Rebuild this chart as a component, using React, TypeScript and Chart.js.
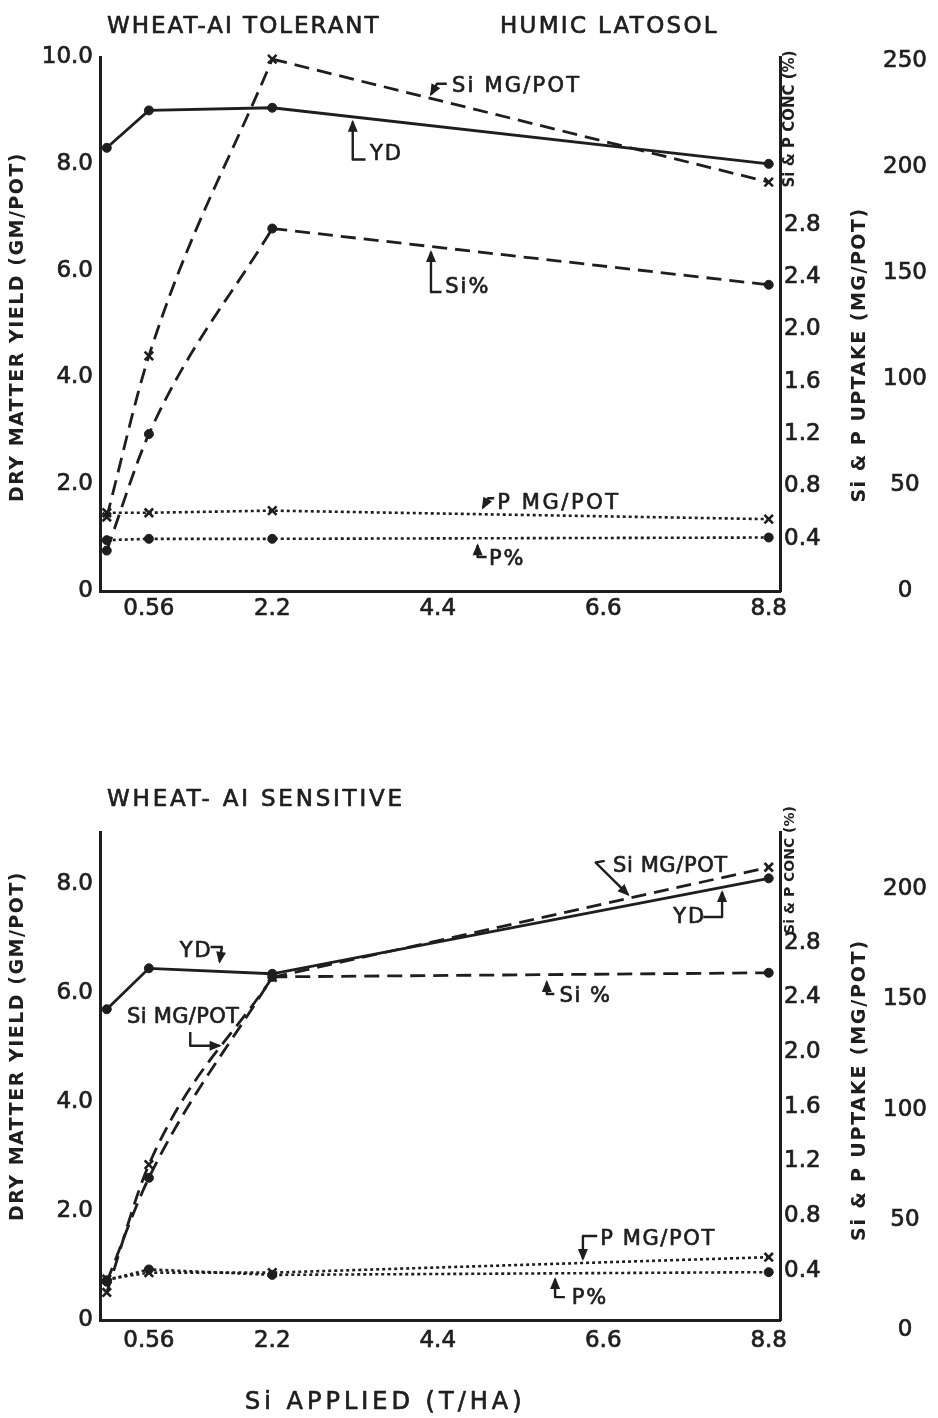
import React, { useEffect, useRef } from "react";
import { Chart, registerables } from "chart.js";

Chart.register(...registerables);

// ---------- data ----------
const SI_RATES = [0, 0.56, 2.2, 8.8];
const X_TICKS = [0.56, 2.2, 4.4, 6.6, 8.8];
const YIELD_TICKS_TOP = [0, 2, 4, 6, 8, 10];
const YIELD_TICKS_BOTTOM = [0, 2, 4, 6, 8];
const CONC_TICKS = [0.4, 0.8, 1.2, 1.6, 2.0, 2.4, 2.8];
const UPTAKE_TICKS_TOP = [0, 50, 100, 150, 200, 250];
const UPTAKE_TICKS_BOTTOM = [0, 50, 100, 150, 200];

// Wheat - Al tolerant (Humic Latosol)
const TOL_YD = [8.3, 9.0, 9.05, 8.0];
const TOL_SI_UPTAKE = [35, 111, 251, 193];
const TOL_SI_PCT = [0.31, 1.2, 2.77, 2.34];
const TOL_P_UPTAKE = [37, 37, 38, 34];
const TOL_P_PCT = [0.39, 0.4, 0.4, 0.41];

// Wheat - Al sensitive
const SEN_YD = [5.7, 6.45, 6.35, 8.1];
const SEN_SI_UPTAKE = [17, 75, 160, 210];
const SEN_SI_PCT = [0.32, 1.08, 2.55, 2.58];
const SEN_P_UPTAKE = [23, 26, 26, 33];
const SEN_P_PCT = [0.33, 0.41, 0.37, 0.39];

// ---------- styling ----------
const INK = "#1e1e1e";
const FONT = '"DejaVu Sans", sans-serif';

type Pt = [number, number];
type Note = { text: string; at: Pt; arrow: Pt[]; sp?: number };
type Label = { text: string; x: number; y: number; size: number; bold?: boolean; spacing?: number; rot?: boolean };

const TOL_NOTES: Note[] = [
  { text: "Si MG/POT", at: [4.59, 9.45], arrow: [[4.52, 9.5], [4.39, 9.5], [4.31, 9.3]], sp: 2.2 },
  { text: "YD", at: [3.5, 8.17], arrow: [[3.44, 8.08], [3.27, 8.08], [3.27, 8.79]], sp: 2 },
  { text: "Si%", at: [4.5, 5.69], arrow: [[4.45, 5.6], [4.31, 5.6], [4.31, 6.35]], sp: 2 },
  { text: "P MG/POT", at: [5.19, 1.65], arrow: [[5.15, 1.74], [5.07, 1.74], [5.0, 1.56]], sp: 2.6 },
  { text: "P%", at: [5.08, 0.59], arrow: [[5.05, 0.64], [4.93, 0.64], [4.93, 0.86]], sp: 2 },
];

const SEN_NOTES: Note[] = [
  { text: "YD", at: [0.97, 6.75], arrow: [[1.38, 6.84], [1.53, 6.84], [1.5, 6.57]], sp: 2 },
  { text: "Si MG/POT", at: [0.27, 5.54], arrow: [[1.11, 5.28], [1.11, 5.03], [1.5, 5.03]], sp: 0.3 },
  { text: "Si MG/POT", at: [6.73, 8.31], arrow: [[6.62, 8.42], [6.5, 8.39], [6.93, 7.8]], sp: 0.6 },
  { text: "YD", at: [7.53, 7.39], arrow: [[7.93, 7.39], [8.18, 7.39], [8.18, 7.85]], sp: 2 },
  { text: "Si %", at: [6.02, 5.94], arrow: [[5.95, 5.98], [5.85, 5.98], [5.85, 6.2]], sp: 1.5 },
  { text: "P MG/POT", at: [6.56, 1.47], arrow: [[6.52, 1.54], [6.33, 1.54], [6.33, 1.12]], sp: 1.6 },
  { text: "P%", at: [6.18, 0.4], arrow: [[6.09, 0.42], [5.96, 0.42], [5.96, 0.75]], sp: 2 },
];

const TOL_LABELS: Label[] = [
  { text: "WHEAT-AI TOLERANT", x: 107, y: 27, size: 23, spacing: 2.0 },
  { text: "HUMIC LATOSOL", x: 500, y: 27, size: 23, spacing: 2.3 },
  { text: "DRY MATTER YIELD (GM/POT)", x: 18, y: 327, size: 19, bold: true, spacing: 1.5, rot: true },
  { text: "Si & P CONC (%)", x: 790, y: 119, size: 15, bold: true, rot: true },
  { text: "Si & P UPTAKE (MG/POT)", x: 860, y: 355, size: 19, bold: true, spacing: 1.5, rot: true },
];

const SEN_LABELS: Label[] = [
  { text: "WHEAT- AI SENSITIVE", x: 107, y: 100, size: 23, spacing: 2.8 },
  { text: "DRY MATTER YIELD (GM/POT)", x: 18, y: 346, size: 19, bold: true, spacing: 1.5, rot: true },
  { text: "Si & P CONC (%)", x: 790, y: 170, size: 14, bold: true, rot: true },
  { text: "Si & P UPTAKE (MG/POT)", x: 860, y: 390, size: 19, bold: true, spacing: 1.8, rot: true },
  { text: "Si APPLIED (T/HA)", x: 245, y: 703, size: 24, spacing: 4 },
];

type Panel = {
  height: number;
  padTop: number;
  xAxisHeight: number;
  xPad: number;
  yMax: number;
  yTicks: number[];
  concMin: number;
  concMax: number;
  upMin: number;
  upMax: number;
  upTicks: number[];
  yd: number[];
  siUp: number[];
  siPct: number[];
  pUp: number[];
  pPct: number[];
  notes: Note[];
  labels: Label[];
};

const TOP_PANEL: Panel = {
  height: 640, padTop: 57, xAxisHeight: 38, xPad: 4,
  yMax: 10, yTicks: YIELD_TICKS_TOP,
  concMin: 0, concMax: 4.08, upMin: 0, upMax: 252, upTicks: UPTAKE_TICKS_TOP,
  yd: TOL_YD, siUp: TOL_SI_UPTAKE, siPct: TOL_SI_PCT, pUp: TOL_P_UPTAKE, pPct: TOL_P_PCT,
  notes: TOL_NOTES, labels: TOL_LABELS,
};

const BOTTOM_PANEL: Panel = {
  height: 718, padTop: 132, xAxisHeight: 98, xPad: 7,
  yMax: 8.95, yTicks: YIELD_TICKS_BOTTOM,
  concMin: 0.04, concMax: 3.61, upMin: 4.5, upMax: 226, upTicks: UPTAKE_TICKS_BOTTOM,
  yd: SEN_YD, siUp: SEN_SI_UPTAKE, siPct: SEN_SI_PCT, pUp: SEN_P_UPTAKE, pPct: SEN_P_PCT,
  notes: SEN_NOTES, labels: SEN_LABELS,
};

function setSpacing(ctx: CanvasRenderingContext2D, s: number) {
  (ctx as any).letterSpacing = `${s}px`;
}

function inkText(ctx: CanvasRenderingContext2D, text: string, x: number, y: number, heavy: boolean) {
  if (heavy) {
    ctx.lineWidth = 0.7;
    ctx.strokeText(text, x, y);
  }
  ctx.fillText(text, x, y);
}

function inkPlugin(panel: Panel) {
  return {
    id: "ink",
    afterDatasetsDraw(chart: any) {
      const ctx: CanvasRenderingContext2D = chart.ctx;
      const sx = chart.scales.x;
      const sy = chart.scales.y;
      ctx.save();
      ctx.fillStyle = INK;
      ctx.strokeStyle = INK;
      ctx.setLineDash([]);
      ctx.lineJoin = "round";
      for (const n of panel.notes) {
        ctx.font = `21px ${FONT}`;
        setSpacing(ctx, n.sp ?? 2);
        ctx.textAlign = "left";
        ctx.textBaseline = "middle";
        inkText(ctx, n.text, sx.getPixelForValue(n.at[0]), sy.getPixelForValue(n.at[1]), true);
        const pts = n.arrow.map(([a, b]) => [sx.getPixelForValue(a), sy.getPixelForValue(b)]);
        ctx.lineWidth = 2.4;
        ctx.beginPath();
        pts.forEach(([x, y], i) => (i ? ctx.lineTo(x, y) : ctx.moveTo(x, y)));
        ctx.stroke();
        const [x1, y1] = pts[pts.length - 2];
        const [x2, y2] = pts[pts.length - 1];
        const ang = Math.atan2(y2 - y1, x2 - x1);
        const L = 10, W = 5;
        ctx.beginPath();
        ctx.moveTo(x2 + 2 * Math.cos(ang), y2 + 2 * Math.sin(ang));
        ctx.lineTo(x2 - L * Math.cos(ang) + W * Math.sin(ang), y2 - L * Math.sin(ang) - W * Math.cos(ang));
        ctx.lineTo(x2 - L * Math.cos(ang) - W * Math.sin(ang), y2 - L * Math.sin(ang) + W * Math.cos(ang));
        ctx.closePath();
        ctx.fill();
      }
      for (const t of panel.labels) {
        ctx.font = `${t.bold ? "bold " : ""}${t.size}px ${FONT}`;
        setSpacing(ctx, t.spacing || 0);
        ctx.textBaseline = "middle";
        if (t.rot) {
          ctx.save();
          ctx.translate(t.x, t.y);
          ctx.rotate(-Math.PI / 2);
          ctx.textAlign = "center";
          inkText(ctx, t.text, 0, 0, !t.bold);
          ctx.restore();
        } else {
          ctx.textAlign = "left";
          inkText(ctx, t.text, t.x, t.y, !t.bold);
        }
      }
      setSpacing(ctx, 0);
      ctx.restore();
    },
  };
}

function makeChart(canvas: HTMLCanvasElement, p: Panel) {
  const base = (
    label: string,
    xs: number[],
    values: number[],
    axis: string,
    dash: number[],
    marker: string,
    radii: number[] | number,
    curved: boolean
  ) => ({
    label,
    data: xs.map((x, i) => ({ x, y: values[i] })),
    yAxisID: axis,
    borderColor: INK,
    backgroundColor: INK,
    borderWidth: dash.length && dash[0] < 5 ? 2.6 : 2.8,
    borderDash: dash,
    borderCapStyle: "butt",
    pointStyle: marker,
    pointRadius: radii,
    pointBorderWidth: marker === "circle" ? 1 : 2.6,
    pointBackgroundColor: INK,
    pointBorderColor: INK,
    fill: false,
    tension: 0,
    cubicInterpolationMode: curved ? "monotone" : "default",
    clip: false,
  });

  const rSize = (marker: string) => (marker === "circle" ? 4.5 : 6);

  // straight polyline through all rates
  const straight = (label: string, values: number[], axis: string, dash: number[], marker: string) =>
    [base(label, SI_RATES, values, axis, dash, marker, rSize(marker), false)];

  // smooth rise over the low rates (0 - 2.2), then a straight run to 8.8
  const bent = (label: string, values: number[], axis: string, dash: number[], marker: string) => [
    base(label, SI_RATES.slice(0, 3), values.slice(0, 3), axis, dash, marker, rSize(marker), true),
    base(label, SI_RATES.slice(2), values.slice(2), axis, dash, marker, [0, rSize(marker)], false),
  ];

  const tickFont = { family: FONT, size: 23 };
  const tickInk = { color: INK, textStrokeColor: INK, textStrokeWidth: 0.7 };
  const noGrid = { display: false, drawTicks: false };
  const setTicks = (vals: number[]) => (s: any) => {
    s.ticks = vals.map((v) => ({ value: v }));
  };

  return new Chart(canvas, {
    type: "line",
    data: {
      datasets: [
        ...straight("YD", p.yd, "y", [], "circle"),
        ...bent("Si MG/POT", p.siUp, "yUp", [15, 8], "crossRot"),
        ...bent("Si%", p.siPct, "yConc", [15, 8], "circle"),
        ...straight("P MG/POT", p.pUp, "yUp", [3, 3], "crossRot"),
        ...straight("P%", p.pPct, "yConc", [3, 3], "circle"),
      ] as any,
    },
    options: {
      animation: false,
      responsive: false,
      events: [],
      layout: { padding: { top: p.padTop, left: 0, right: 0, bottom: 0 } },
      plugins: { legend: { display: false }, tooltip: { enabled: false } },
      scales: {
        x: {
          type: "linear",
          min: -0.09,
          max: 8.95,
          bounds: "data",
          afterBuildTicks: setTicks(X_TICKS),
          afterFit: (s: any) => { s.height = p.xAxisHeight; },
          grid: noGrid,
          border: { display: true, color: INK, width: 3 },
          ticks: {
            font: tickFont, ...tickInk, padding: p.xPad, maxRotation: 0, autoSkip: false,
            callback: (v: any) => String(v),
          },
        },
        y: {
          type: "linear",
          position: "left",
          min: 0,
          max: p.yMax,
          bounds: "data",
          afterBuildTicks: setTicks(p.yTicks),
          afterFit: (s: any) => { s.width = 100; },
          grid: noGrid,
          border: { display: true, color: INK, width: 3 },
          ticks: {
            font: tickFont, ...tickInk, padding: 7, autoSkip: false,
            callback: (v: any) => (v === 0 ? "0" : Number(v).toFixed(1)),
          },
        },
        yConc: {
          type: "linear",
          position: "right",
          weight: 0,
          min: p.concMin,
          max: p.concMax,
          bounds: "data",
          afterBuildTicks: setTicks(CONC_TICKS),
          afterFit: (s: any) => { s.width = 68; },
          grid: noGrid,
          border: { display: true, color: INK, width: 3 },
          ticks: {
            font: tickFont, ...tickInk, padding: 4, autoSkip: false,
            callback: (v: any) => Number(v).toFixed(1),
          },
        },
        yUp: {
          type: "linear",
          position: "right",
          weight: 1,
          min: p.upMin,
          max: p.upMax,
          bounds: "data",
          afterBuildTicks: setTicks(p.upTicks),
          afterFit: (s: any) => { s.width = 90; },
          grid: noGrid,
          border: { display: false },
          ticks: {
            font: tickFont, ...tickInk, padding: 35, crossAlign: "center", autoSkip: false,
            callback: (v: any) => String(v),
          },
        },
      },
    } as any,
    plugins: [inkPlugin(p) as any],
  });
}

export default function App() {
  const topRef = useRef<HTMLCanvasElement>(null);
  const botRef = useRef<HTMLCanvasElement>(null);

  useEffect(() => {
    const c1 = makeChart(topRef.current!, TOP_PANEL);
    const c2 = makeChart(botRef.current!, BOTTOM_PANEL);
    return () => {
      c1.destroy();
      c2.destroy();
    };
  }, []);

  return (
    <div
      style={{
        position: "absolute",
        left: 0,
        top: 0,
        width: 938,
        height: 1418,
        background: "#fff",
        overflow: "hidden",
      }}
    >
      <canvas
        ref={topRef}
        width={938}
        height={640}
        style={{ position: "absolute", left: 0, top: 0, width: 938, height: 640 }}
      />
      <canvas
        ref={botRef}
        width={938}
        height={718}
        style={{ position: "absolute", left: 0, top: 700, width: 938, height: 718 }}
      />
    </div>
  );
}
